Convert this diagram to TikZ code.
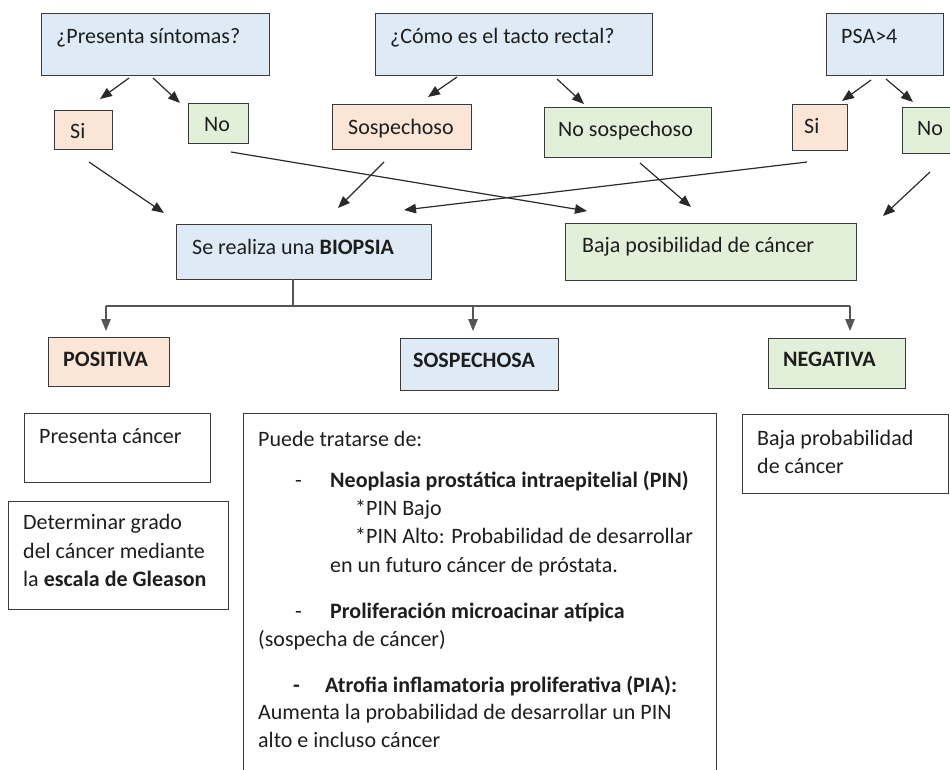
\documentclass[tikz,border=0pt]{standalone}
\usepackage{fontspec}
\setmainfont{Carlito}
\usetikzlibrary{arrows.meta}
\definecolor{bfill}{HTML}{DEEBF7}
\definecolor{ofill}{HTML}{FBE5D6}
\definecolor{gfill}{HTML}{E2F0D9}
\definecolor{edgec}{HTML}{3A3A3A}
\definecolor{ink}{HTML}{1E1E1E}
\definecolor{linec}{HTML}{2A2A2A}
\begin{document}
\begin{tikzpicture}[x=1pt,y=-1pt,
  box/.style={draw=edgec, line width=1.3pt, anchor=north west, inner sep=0pt},
  txt/.style={anchor=base west, inner sep=0pt, font=\fontsize{22}{28}\selectfont, text=ink},
  arr/.style={draw=linec, line width=1.2pt, -{Triangle[length=12pt,width=9.5pt]}},
  tree/.style={draw=linec!80, line width=1.2pt},
]
\useasboundingbox (0,0) rectangle (950,769);
\clip (0,0) rectangle (950,769);
% boxes
\node[box, fill=bfill, minimum width=228pt, minimum height=62pt] (q1) at (41,13) {};
\node[box, fill=bfill, minimum width=277pt, minimum height=62pt] (q2) at (375,13) {};
\node[box, fill=bfill, minimum width=117pt, minimum height=62pt] (q3) at (826,13) {};
\node[box, fill=ofill, minimum width=58pt, minimum height=39pt] (si1) at (54,110) {};
\node[box, fill=gfill, minimum width=60pt, minimum height=40pt] (no1) at (188,103) {};
\node[box, fill=ofill, minimum width=139pt, minimum height=45pt] (sosp) at (332,104) {};
\node[box, fill=gfill, minimum width=167pt, minimum height=50pt] (nosp) at (544,107) {};
\node[box, fill=ofill, minimum width=55pt, minimum height=46pt] (si2) at (792,104) {};
\node[box, fill=gfill, minimum width=60pt, minimum height=46pt] (no2) at (902,107) {};
\node[box, fill=bfill, minimum width=255pt, minimum height=55pt] (bio) at (176,224) {};
\node[box, fill=gfill, minimum width=291pt, minimum height=57pt] (baja) at (565,223) {};
\node[box, fill=ofill, minimum width=121pt, minimum height=49pt] (pos) at (48,337) {};
\node[box, fill=bfill, minimum width=158pt, minimum height=52pt] (sos) at (400,338) {};
\node[box, fill=gfill, minimum width=137pt, minimum height=50pt] (neg) at (768,338) {};
\node[box, fill=white, minimum width=186pt, minimum height=69pt] (pc) at (24,413) {};
\node[box, fill=white, minimum width=220pt, minimum height=108pt] (det) at (8,501) {};
\node[box, fill=white, minimum width=473pt, minimum height=400pt] (pue) at (243,413) {};
\node[box, fill=white, minimum width=206pt, minimum height=79pt] (bp) at (742,414) {};
% texts
\node[txt] (tq1) at (56,43) {¿Presenta síntomas?};
\node[txt] (tq2) at (390,43) {¿Cómo es el tacto rectal?};
\node[txt] (tq3) at (841,43) {PSA>4};
\node[txt] (tsi1) at (70,138) {Si};
\node[txt] (tno1) at (204,131) {No};
\node[txt] (tsosp) at (348,134) {Sospechoso};
\node[txt] (tnosp) at (558,136) {No sospechoso};
\node[txt] (tsi2) at (804,133) {Si};
\node[txt] (tno2) at (917,135) {No};
\node[txt] (tbio) at (192,254) {Se realiza una \textbf{BIOPSIA}};
\node[txt] (tbaja) at (582,252) {Baja posibilidad de cáncer};
\node[txt] (tpos) at (63,366) {\textbf{POSITIVA}};
\node[txt] (tsos) at (413,367) {\textbf{SOSPECHOSA}};
\node[txt] (tneg) at (783,366) {\textbf{NEGATIVA}};
\node[txt] (tpc) at (39,443) {Presenta cáncer};
\node[txt] (tdet1) at (23,529) {Determinar grado};
\node[txt] (tdet2) at (23,558) {del cáncer mediante};
\node[txt] (tdet3) at (23,586) {la \textbf{escala de Gleason}};
\node[txt] (tp0) at (258,446) {Puede tratarse de:};
\node[txt] (tp1d) at (295,487) {-};
\node[txt] (tp1) at (330,487) {\textbf{Neoplasia prostática intraepitelial (PIN)}};
\node[txt] (tp2) at (355,515) {*PIN Bajo};
\node[txt] (tp3) at (355,543) {*PIN Alto: Probabilidad de desarrollar};
\node[txt] (tp4) at (330,572) {en un futuro cáncer de próstata.};
\node[txt] (tp5d) at (295,618) {-};
\node[txt] (tp5) at (330,618) {\textbf{Proliferación microacinar atípica}};
\node[txt] (tp6) at (258,646) {(sospecha de cáncer)};
\node[txt] (tp7d) at (293,692) {\textbf{-}};
\node[txt] (tp7) at (325,692) {\textbf{Atrofia inflamatoria proliferativa (PIA):}};
\node[txt] (tp8) at (258,719) {Aumenta la probabilidad de desarrollar un PIN};
\node[txt] (tp9) at (258,747) {alto e incluso cáncer};
\node[txt] (tbp1) at (757,445) {Baja probabilidad};
\node[txt] (tbp2) at (757,473) {de cáncer};
% arrow end points
\coordinate (q1a) at (129,78);  \coordinate (si1t) at (100,99);
\coordinate (q1b) at (153,78);  \coordinate (no1t) at (180,103);
\coordinate (q2a) at (457,77);  \coordinate (sospt) at (428,97);
\coordinate (q2b) at (557,79);  \coordinate (nospt) at (584,104);
\coordinate (q3a) at (871,80);  \coordinate (si2t) at (842,101);
\coordinate (q3b) at (886,79);  \coordinate (no2t) at (913,102);
\coordinate (si1b) at (89,162);  \coordinate (bio1) at (164,213);
\coordinate (no1b) at (231,152); \coordinate (baja1) at (587,211);
\coordinate (sospb) at (384,162); \coordinate (bio2) at (338,208);
\coordinate (si2b) at (807,162); \coordinate (bio3) at (404,210);
\coordinate (nospb) at (640,163); \coordinate (baja2) at (691,207);
\coordinate (no2b) at (930,172); \coordinate (baja3) at (883,216);
\draw[arr] (q1a) -- (si1t);
\draw[arr] (q1b) -- (no1t);
\draw[arr] (q2a) -- (sospt);
\draw[arr] (q2b) -- (nospt);
\draw[arr] (q3a) -- (si2t);
\draw[arr] (q3b) -- (no2t);
\draw[arr] (si1b) -- (bio1);
\draw[arr] (no1b) -- (baja1);
\draw[arr] (sospb) -- (bio2);
\draw[arr] (si2b) -- (bio3);
\draw[arr] (nospb) -- (baja2);
\draw[arr] (no2b) -- (baja3);
% tree
\coordinate (stem) at (293,279);
\coordinate (junc) at (293,306);
\coordinate (bl) at (106,306);
\coordinate (bm) at (473,306);
\coordinate (br) at (850,306);
\coordinate (tl) at (106,331);
\coordinate (tm) at (473,331);
\coordinate (tr) at (850,331);
\draw[tree] (stem) -- (junc);
\draw[tree] (bl) -- (br);
\draw[arr, draw=linec!80] (bl) -- (tl);
\draw[arr, draw=linec!80] (bm) -- (tm);
\draw[arr, draw=linec!80] (br) -- (tr);
\end{tikzpicture}
\end{document}
